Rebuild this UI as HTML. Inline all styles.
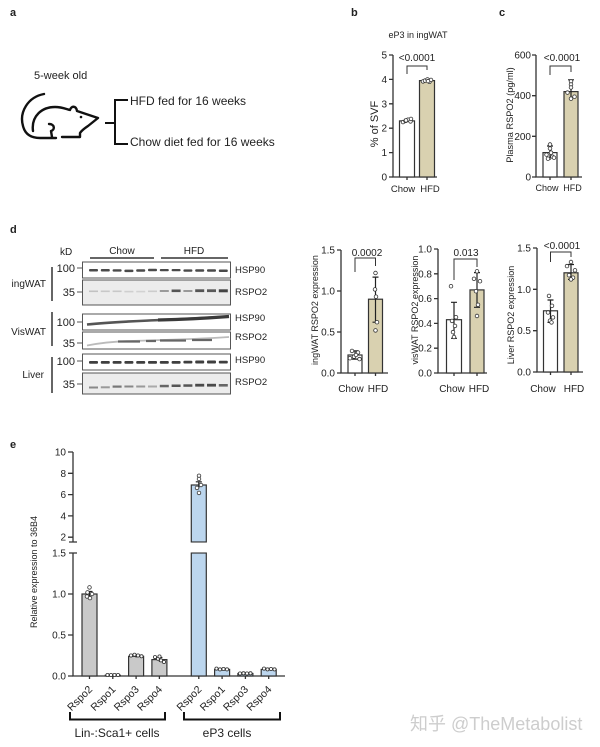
<!DOCTYPE html>
<html><head><meta charset="utf-8"><style>
html,body{margin:0;padding:0;background:#fff;}
svg{display:block;}
text{font-family:"Liberation Sans",Arial,"Noto Sans CJK SC",sans-serif;fill:#222;}
.ax{stroke:#333;stroke-width:1.3;fill:none;}
.bar{stroke:#333;stroke-width:1.2;}
.dot{fill:#fff;stroke:#333;stroke-width:0.8;}
.eb{stroke:#222;stroke-width:1.2;fill:none;}
.br{stroke:#333;stroke-width:1;fill:none;}
.bl{fill:#fff;stroke:#555;stroke-width:1;}
.bg{fill:#ececec;stroke:#555;stroke-width:1;}
</style></head><body>
<svg width="600" height="747" viewBox="0 0 600 747" xmlns="http://www.w3.org/2000/svg">
<rect width="600" height="747" fill="#fff"/>

<!-- Panel letters -->
<text x="10" y="16" font-size="11" font-weight="bold">a</text>
<text x="351" y="16" font-size="11" font-weight="bold">b</text>
<text x="499" y="16" font-size="11" font-weight="bold">c</text>
<text x="10" y="233" font-size="11" font-weight="bold">d</text>
<text x="10" y="448" font-size="11" font-weight="bold">e</text>

<!-- Panel a -->
<text x="34" y="79" font-size="11">5-week old</text>
<g stroke="#111" stroke-width="2.4" fill="none" stroke-linecap="round" stroke-linejoin="round">
<path d="M44,94 C28,97 19,112 23,126 C25,134 31,138 40,138 L56,138"/>
<path d="M33,131 C31,116 42,107 55,107 C62,107 66,109 70,110 C71,106 76,105 77,111 L98,118 L88,126 C85,128 82,130 80,133 L80,137 L62,137"/>
<path d="M49,124 C55,124 55,130 51,131 L52,137"/>
</g>
<circle cx="81" cy="117" r="1.3" fill="#111"/>
<g stroke="#111" stroke-width="2" fill="none">
<path d="M105,123 L115,123"/>
<path d="M128,100 L115,100 L115,144 L128,144"/>
</g>
<text x="130" y="105" font-size="12">HFD fed for 16 weeks</text>
<text x="130" y="146" font-size="12">Chow diet fed for 16 weeks</text>

<!-- Panel b -->
<text x="418" y="38" font-size="9" text-anchor="middle">eP3 in ingWAT</text>
<path class="ax" d="M393,55 L393,177 L437,177"/>
<g class="ax"><path d="M389,55H393M389,79.4H393M389,103.8H393M389,128.2H393M389,152.6H393M389,177H393M407,177V180M427,177V180"/></g>
<g font-size="10" text-anchor="end">
<text x="387" y="58.5">5</text><text x="387" y="82.9">4</text><text x="387" y="107.3">3</text><text x="387" y="131.7">2</text><text x="387" y="156.1">1</text><text x="387" y="180.5">0</text>
</g>
<rect class="bar" x="399.5" y="120.9" width="15" height="56.1" fill="#fff"/>
<rect class="bar" x="419.5" y="80.6" width="15" height="96.4" fill="#d9d1b0"/>
<path class="eb" d="M407,119.3V122.5M404,119.3H410M427,79.4V81.8M424,79.4H430"/>
<g>
<circle class="dot" cx="403" cy="122.1" r="1.8"/><circle class="dot" cx="405.5" cy="120.9" r="1.8"/><circle class="dot" cx="408" cy="119.7" r="1.8"/><circle class="dot" cx="410.5" cy="121.4" r="1.8"/><circle class="dot" cx="411" cy="118.9" r="1.8"/><circle class="dot" cx="406" cy="120.4" r="1.8"/>
<circle class="dot" cx="423" cy="81.4" r="1.8"/><circle class="dot" cx="425" cy="80.6" r="1.8"/><circle class="dot" cx="427.5" cy="79.4" r="1.8"/><circle class="dot" cx="429.5" cy="81.8" r="1.8"/><circle class="dot" cx="431" cy="79.9" r="1.8"/><circle class="dot" cx="428" cy="81.1" r="1.8"/>
</g>
<path class="br" d="M407,74V66H427V70"/>
<text x="417" y="61" font-size="10" text-anchor="middle">&lt;0.0001</text>
<text x="403" y="192" font-size="9.5" text-anchor="middle">Chow</text>
<text x="430" y="192" font-size="9.5" text-anchor="middle">HFD</text>
<text transform="translate(378,124) rotate(-90)" font-size="11" text-anchor="middle">% of SVF</text>

<!-- Panel c -->
<path class="ax" d="M536,55 L536,177 L582,177"/>
<path class="ax" d="M532,55H536M532,95.7H536M532,136.3H536M532,177H536M550,177V180M571,177V180"/>
<g font-size="10" text-anchor="end">
<text x="531" y="58.5">600</text><text x="531" y="99.2">400</text><text x="531" y="139.8">200</text><text x="531" y="180.5">0</text>
</g>
<rect class="bar" x="543" y="152.6" width="14" height="24.4" fill="#fff"/>
<rect class="bar" x="564" y="91.6" width="14" height="85.4" fill="#d9d1b0"/>
<path class="eb" d="M550,146V160M547,146H553M571,79.8V99.1M568,79.8H574"/>
<g>
<circle class="dot" cx="550" cy="144.5" r="1.8"/><circle class="dot" cx="550" cy="148.5" r="1.8"/><circle class="dot" cx="546.5" cy="154.6" r="1.8"/><circle class="dot" cx="552.5" cy="156.7" r="1.8"/><circle class="dot" cx="548" cy="158.7" r="1.8"/><circle class="dot" cx="554" cy="157.7" r="1.8"/><circle class="dot" cx="551" cy="152.6" r="1.8"/>
<circle class="dot" cx="571" cy="81.4" r="1.8"/><circle class="dot" cx="571" cy="84.5" r="1.8"/><circle class="dot" cx="571" cy="87.5" r="1.8"/><circle class="dot" cx="567.5" cy="92.6" r="1.8"/><circle class="dot" cx="574.5" cy="96.7" r="1.8"/><circle class="dot" cx="571" cy="98.7" r="1.8"/>
</g>
<path class="br" d="M550,75V66H571V72"/>
<text x="562" y="61" font-size="10" text-anchor="middle">&lt;0.0001</text>
<text x="547" y="191" font-size="9" text-anchor="middle">Chow</text>
<text x="572.5" y="191" font-size="9" text-anchor="middle">HFD</text>
<text transform="translate(513,115) rotate(-90)" font-size="9.2" text-anchor="middle">Plasma RSPO2 (pg/ml)</text>

<!-- Panel d blot -->
<text x="60" y="255" font-size="10">kD</text>
<text x="122" y="254" font-size="10" text-anchor="middle">Chow</text>
<text x="194" y="254" font-size="10" text-anchor="middle">HFD</text>
<path d="M90,258H154M161,258H228" stroke="#333" stroke-width="1.5"/>
<g stroke="#333" stroke-width="1.5"><path d="M52,267V301M52,312V346M52,357V393"/></g>
<g font-size="10" text-anchor="end">
<text x="46" y="287">ingWAT</text><text x="46" y="335">VisWAT</text><text x="44" y="378">Liver</text>
</g>
<g font-size="11" text-anchor="end">
<text x="75" y="272">100</text><text x="75" y="296">35</text>
<text x="75" y="326">100</text><text x="75" y="347">35</text>
<text x="75" y="365">100</text><text x="75" y="388">35</text>
</g>
<g stroke="#555" stroke-width="1"><path d="M77,268H82M77,292H82M77,322H82M77,343H82M77,361H82M77,384H82"/></g>
<rect class="bl" x="82.5" y="262" width="148" height="16"/>
<rect class="bg" x="82.5" y="280" width="148" height="25"/>
<rect class="bl" x="82.5" y="314" width="148" height="16"/>
<rect class="bl" x="82.5" y="332" width="148" height="17"/>
<rect class="bl" x="82.5" y="354" width="148" height="16"/>
<rect class="bg" x="82.5" y="373" width="148" height="21"/>
<!-- ingWAT HSP90 -->
<g fill="#4a4a4a">
<rect x="89" y="269" width="9" height="2.5" rx="1"/><rect x="100.8" y="269" width="9" height="2.5" rx="1"/><rect x="112.6" y="269.3" width="9" height="2.3" rx="1"/><rect x="124.4" y="269.6" width="9" height="2.5" rx="1"/><rect x="136.2" y="269.2" width="9" height="2.5" rx="1"/><rect x="148" y="268.8" width="9" height="2.5" rx="1"/>
<rect x="159.8" y="269" width="9" height="2.3" rx="1"/><rect x="171.6" y="269" width="9" height="2.3" rx="1"/><rect x="183.4" y="269.4" width="9" height="2.3" rx="1"/><rect x="195.2" y="269.2" width="9" height="2.5" rx="1"/><rect x="207" y="269.2" width="9" height="2.5" rx="1"/><rect x="218.8" y="269.5" width="9" height="2.5" rx="1"/>
</g>
<!-- ingWAT RSPO2 -->
<g>
<rect x="89" y="290.5" width="9" height="1.6" fill="#c2c2c2"/><rect x="100.8" y="290.5" width="9" height="1.6" fill="#c8c8c8"/><rect x="112.6" y="290.5" width="9" height="1.6" fill="#c8c8c8"/><rect x="124.4" y="290.8" width="9" height="1.6" fill="#cfcfcf"/><rect x="136.2" y="290.8" width="9" height="1.6" fill="#d2d2d2"/><rect x="148" y="290.5" width="9" height="1.6" fill="#cccccc"/>
<rect x="159.8" y="290" width="9" height="2" fill="#9a9a9a"/><rect x="171.6" y="289.5" width="9" height="2.6" fill="#555"/><rect x="183.4" y="290" width="9" height="2" fill="#999"/><rect x="195.2" y="289.3" width="9" height="2.8" fill="#555"/><rect x="207" y="289.3" width="9" height="2.8" fill="#5a5a5a"/><rect x="218.8" y="289.3" width="9" height="3" fill="#444"/>
</g>
<!-- VisWAT HSP90 -->
<path d="M87,324.5 C110,322 140,321 160,320 C185,319 205,318 229,316.5" stroke="#555" stroke-width="2.6" fill="none"/>
<path d="M158,320 C180,319.5 205,318.3 229,316.5" stroke="#3a3a3a" stroke-width="3.2" fill="none"/>
<!-- VisWAT RSPO2 -->
<path d="M87,345.5 C100,343 115,341.5 130,341 C160,340 190,339.5 229,337" stroke="#bbb" stroke-width="1.8" fill="none"/>
<path d="M118,341.5H140M146,341H156M160,340.5H186M192,340H212" stroke="#666" stroke-width="2.2" fill="none"/>
<!-- Liver HSP90 -->
<g fill="#3f3f3f">
<rect x="89" y="361" width="9" height="2.8" rx="1"/><rect x="100.8" y="361" width="9" height="2.8" rx="1"/><rect x="112.6" y="361" width="9" height="2.8" rx="1"/><rect x="124.4" y="361" width="9" height="2.8" rx="1"/><rect x="136.2" y="361" width="9" height="2.8" rx="1"/><rect x="148" y="361" width="9" height="2.8" rx="1"/>
<rect x="159.8" y="361" width="9" height="2.8" rx="1"/><rect x="171.6" y="361" width="9" height="2.8" rx="1"/><rect x="183.4" y="360.7" width="9" height="2.8" rx="1"/><rect x="195.2" y="360.5" width="9" height="3" rx="1"/><rect x="207" y="360.5" width="9" height="3" rx="1"/><rect x="218.8" y="360.7" width="9" height="2.8" rx="1"/>
</g>
<!-- Liver RSPO2 -->
<g>
<rect x="89" y="386.5" width="9" height="2" fill="#888"/><rect x="100.8" y="386.3" width="9" height="2" fill="#999"/><rect x="112.6" y="385.5" width="9" height="2.2" fill="#777"/><rect x="124.4" y="385.5" width="9" height="2" fill="#888"/><rect x="136.2" y="385.5" width="9" height="2" fill="#999"/><rect x="148" y="385.5" width="9" height="2" fill="#aaa"/>
<rect x="159.8" y="384.8" width="9" height="2.5" fill="#666"/><rect x="171.6" y="384.5" width="9" height="2.5" fill="#555"/><rect x="183.4" y="384.3" width="9" height="2.5" fill="#555"/><rect x="195.2" y="383.8" width="9" height="2.8" fill="#4a4a4a"/><rect x="207" y="383.8" width="9" height="2.8" fill="#4a4a4a"/><rect x="218.8" y="384" width="9" height="2.6" fill="#666"/>
</g>
<g font-size="9.5">
<text x="235" y="273">HSP90</text><text x="235" y="295">RSPO2</text>
<text x="235" y="321">HSP90</text><text x="235" y="340">RSPO2</text>
<text x="235" y="363">HSP90</text><text x="235" y="385">RSPO2</text>
</g>

<!-- Panel d chart 1 -->
<path class="ax" d="M341,250 L341,373 L388,373"/>
<path class="ax" d="M337,250H341M337,291H341M337,332H341M337,373H341M355,373V376M375.5,373V376"/>
<g font-size="10" text-anchor="end">
<text x="335" y="253.5">1.5</text><text x="335" y="294.5">1.0</text><text x="335" y="335.5">0.5</text><text x="335" y="376.5">0.0</text>
</g>
<rect class="bar" x="348" y="355" width="14" height="18" fill="#fff"/>
<rect class="bar" x="368.5" y="299.2" width="14" height="73.8" fill="#d9d1b0"/>
<path class="eb" d="M355,350.9V359.1M352,350.9H358M352,359.1H358M375.5,277.1V322.2M372.5,277.1H378.5M372.5,322.2H378.5"/>
<g>
<circle class="dot" cx="352" cy="350.9" r="1.8"/><circle class="dot" cx="358" cy="352.5" r="1.8"/><circle class="dot" cx="354" cy="356.6" r="1.8"/><circle class="dot" cx="350" cy="358.2" r="1.8"/><circle class="dot" cx="359.5" cy="359.1" r="1.8"/><circle class="dot" cx="356" cy="355" r="1.8"/>
<circle class="dot" cx="375.5" cy="273" r="1.8"/><circle class="dot" cx="375" cy="289.4" r="1.8"/><circle class="dot" cx="376" cy="296.7" r="1.8"/><circle class="dot" cx="377" cy="322.2" r="1.8"/><circle class="dot" cx="375.5" cy="330.4" r="1.8"/>
</g>
<path class="br" d="M355,272V258H375.5V266"/>
<text x="367" y="256" font-size="10" text-anchor="middle">0.0002</text>
<text x="351" y="392" font-size="10" text-anchor="middle">Chow</text>
<text x="378" y="392" font-size="10" text-anchor="middle">HFD</text>
<text transform="translate(318,310) rotate(-90)" font-size="9" text-anchor="middle">ingWAT RSPO2 expression</text>

<!-- Panel d chart 2 -->
<path class="ax" d="M438,249 L438,373 L487,373"/>
<path class="ax" d="M434,249H438M434,273.8H438M434,298.6H438M434,323.4H438M434,348.2H438M434,373H438M454,373V376M477,373V376"/>
<g font-size="10" text-anchor="end">
<text x="432" y="252.5">1.0</text><text x="432" y="277.3">0.8</text><text x="432" y="302.1">0.6</text><text x="432" y="326.9">0.4</text><text x="432" y="351.7">0.2</text><text x="432" y="376.5">0.0</text>
</g>
<rect class="bar" x="446.5" y="319.7" width="15" height="53.3" fill="#fff"/>
<rect class="bar" x="470" y="289.9" width="14" height="83.1" fill="#d9d1b0"/>
<path class="eb" d="M454,302.3V338.3M451,302.3H457M451,338.3H457M477,272.6V307.3M474,272.6H480M474,307.3H480"/>
<g>
<circle class="dot" cx="451" cy="286.2" r="1.8"/><circle class="dot" cx="456" cy="317.2" r="1.8"/><circle class="dot" cx="452" cy="320.9" r="1.8"/><circle class="dot" cx="455" cy="325.9" r="1.8"/><circle class="dot" cx="453" cy="332.1" r="1.8"/><circle class="dot" cx="454" cy="337" r="1.8"/>
<circle class="dot" cx="477" cy="271.3" r="1.8"/><circle class="dot" cx="474" cy="278.8" r="1.8"/><circle class="dot" cx="480" cy="281.2" r="1.8"/><circle class="dot" cx="476" cy="291.2" r="1.8"/><circle class="dot" cx="478" cy="304.8" r="1.8"/><circle class="dot" cx="477" cy="316" r="1.8"/>
</g>
<path class="br" d="M454,280V259H477V267"/>
<text x="466" y="256" font-size="10" text-anchor="middle">0.013</text>
<text x="452" y="392" font-size="10" text-anchor="middle">Chow</text>
<text x="479" y="392" font-size="10" text-anchor="middle">HFD</text>
<text transform="translate(418,310) rotate(-90)" font-size="9" text-anchor="middle">visWAT RSPO2 expression</text>

<!-- Panel d chart 3 -->
<path class="ax" d="M537,248 L537,372 L583,372"/>
<path class="ax" d="M533,248H537M533,289.3H537M533,330.7H537M533,372H537M550.5,372V375M571,372V375"/>
<g font-size="10" text-anchor="end">
<text x="531" y="251.5">1.5</text><text x="531" y="292.8">1.0</text><text x="531" y="334.2">0.5</text><text x="531" y="375.5">0.0</text>
</g>
<rect class="bar" x="543.5" y="310.8" width="14" height="61.2" fill="#fff"/>
<rect class="bar" x="564" y="272.8" width="14" height="99.2" fill="#d9d1b0"/>
<path class="eb" d="M550.5,300V322.4M547.5,300H553.5M547.5,322.4H553.5M571,264.5V279.4M568,264.5H574M568,279.4H574"/>
<g>
<circle class="dot" cx="549" cy="295.9" r="1.8"/><circle class="dot" cx="552" cy="305.8" r="1.8"/><circle class="dot" cx="548" cy="312.5" r="1.8"/><circle class="dot" cx="553" cy="317.4" r="1.8"/><circle class="dot" cx="550" cy="320.7" r="1.8"/><circle class="dot" cx="551.5" cy="322.4" r="1.8"/>
<circle class="dot" cx="571" cy="262" r="1.8"/><circle class="dot" cx="567" cy="266.1" r="1.8"/><circle class="dot" cx="575" cy="270.3" r="1.8"/><circle class="dot" cx="569" cy="275.2" r="1.8"/><circle class="dot" cx="573" cy="277.7" r="1.8"/><circle class="dot" cx="571" cy="279.4" r="1.8"/>
</g>
<path class="br" d="M550.5,262V252H571V257"/>
<text x="562" y="249" font-size="10" text-anchor="middle">&lt;0.0001</text>
<text x="543" y="392" font-size="10" text-anchor="middle">Chow</text>
<text x="574" y="392" font-size="10" text-anchor="middle">HFD</text>
<text transform="translate(514,315) rotate(-90)" font-size="9" text-anchor="middle">Liver RSPO2 expression</text>

<!-- Panel e -->
<path class="ax" d="M73,452 L73,542 M69,542H77 M73,553 L73,676 L285,676 M69,553H77"/>
<path class="ax" d="M68,452H73M68,473.3H73M68,494.6H73M68,515.9H73M68,537.2H73M68,594H73M68,635H73M68,676H73"/>
<path class="ax" d="M89.5,676V679M112.8,676V679M136.1,676V679M159.4,676V679M198.8,676V679M222.1,676V679M245.4,676V679M268.7,676V679"/>
<g font-size="10" text-anchor="end">
<text x="66" y="455.5">10</text><text x="66" y="476.8">8</text><text x="66" y="498.1">6</text><text x="66" y="519.4">4</text><text x="66" y="540.7">2</text>
<text x="66" y="556.5">1.5</text><text x="66" y="597.5">1.0</text><text x="66" y="638.5">0.5</text><text x="66" y="679.5">0.0</text>
</g>
<g fill="#c9c9c9" class="bar">
<rect x="82" y="594" width="15" height="82"/>
<rect x="105.3" y="675.2" width="15" height="0.8"/>
<rect x="128.6" y="656.3" width="15" height="19.7"/>
<rect x="151.9" y="659.6" width="15" height="16.4"/>
</g>
<g fill="#bcd6ee" class="bar">
<rect x="191.3" y="485" width="15" height="57"/>
<rect x="191.3" y="553" width="15" height="123"/>
<rect x="214.6" y="669.4" width="15" height="6.6"/>
<rect x="237.9" y="673.5" width="15" height="2.5"/>
<rect x="261.2" y="669.4" width="15" height="6.6"/>
</g>
<rect x="189" y="542.7" width="20" height="9.6" fill="#fff"/>
<path class="eb" d="M89.5,591.5V596.5M86.5,591.5H92.5M136.1,654.7V657.5M133.1,654.7H139.1M159.4,657.5V661.8M156.4,657.5H162.4M198.8,481.8V488.2M195.8,481.8H201.8M222.1,668.4V670.4M245.4,672.6V674.4M268.7,668.4V670.4"/>
<g>
<circle class="dot" cx="89.5" cy="587.4" r="1.8"/><circle class="dot" cx="87.5" cy="592.4" r="1.8"/><circle class="dot" cx="92" cy="594" r="1.8"/><circle class="dot" cx="87" cy="596.5" r="1.8"/><circle class="dot" cx="90" cy="598.1" r="1.8"/>
<circle class="dot" cx="107.5" cy="675" r="1.6"/><circle class="dot" cx="111" cy="675" r="1.6"/><circle class="dot" cx="114.5" cy="675" r="1.6"/><circle class="dot" cx="118" cy="675" r="1.6"/>
<circle class="dot" cx="131" cy="655.5" r="1.6"/><circle class="dot" cx="134.5" cy="654.7" r="1.6"/><circle class="dot" cx="138" cy="655.5" r="1.6"/><circle class="dot" cx="141.5" cy="656.3" r="1.6"/>
<circle class="dot" cx="155" cy="657.1" r="1.6"/><circle class="dot" cx="158" cy="658.8" r="1.6"/><circle class="dot" cx="161" cy="660.4" r="1.6"/><circle class="dot" cx="164" cy="662" r="1.6"/><circle class="dot" cx="159.5" cy="656.5" r="1.6"/>
<circle class="dot" cx="199" cy="475.8" r="1.8"/><circle class="dot" cx="199" cy="479" r="1.8"/><circle class="dot" cx="197" cy="487.9" r="1.8"/><circle class="dot" cx="199" cy="492.9" r="1.8"/><circle class="dot" cx="201" cy="485" r="1.8"/>
<circle class="dot" cx="216.5" cy="668.6" r="1.6"/><circle class="dot" cx="220" cy="669.4" r="1.6"/><circle class="dot" cx="223.5" cy="669" r="1.6"/><circle class="dot" cx="227" cy="669.4" r="1.6"/>
<circle class="dot" cx="240" cy="673.5" r="1.6"/><circle class="dot" cx="243.5" cy="673.3" r="1.6"/><circle class="dot" cx="247" cy="673.5" r="1.6"/><circle class="dot" cx="250.5" cy="673.3" r="1.6"/>
<circle class="dot" cx="264" cy="668.6" r="1.6"/><circle class="dot" cx="267.5" cy="669.4" r="1.6"/><circle class="dot" cx="271" cy="669" r="1.6"/><circle class="dot" cx="274.5" cy="669.4" r="1.6"/>
</g>
<g font-size="10.5" text-anchor="end">
<text transform="translate(93,690) rotate(-45)">Rspo2</text>
<text transform="translate(116.3,690) rotate(-45)">Rspo1</text>
<text transform="translate(139.6,690) rotate(-45)">Rspo3</text>
<text transform="translate(162.9,690) rotate(-45)">Rspo4</text>
<text transform="translate(202.3,690) rotate(-45)">Rspo2</text>
<text transform="translate(225.6,690) rotate(-45)">Rspo1</text>
<text transform="translate(248.9,690) rotate(-45)">Rspo3</text>
<text transform="translate(272.2,690) rotate(-45)">Rspo4</text>
</g>
<path d="M70,712V719.5H165V712M184,712V719.5H280V712" stroke="#111" stroke-width="2" fill="none"/>
<text x="117" y="737" font-size="12" text-anchor="middle">Lin-:Sca1+ cells</text>
<text x="227" y="737" font-size="12" text-anchor="middle">eP3 cells</text>
<text transform="translate(37,572) rotate(-90)" font-size="9" text-anchor="middle">Relative expression to 36B4</text>

<!-- watermark -->
<text x="410" y="730" font-size="18" style="fill:#cdcdcd">知乎 @TheMetabolist</text>
</svg>
</body></html>
